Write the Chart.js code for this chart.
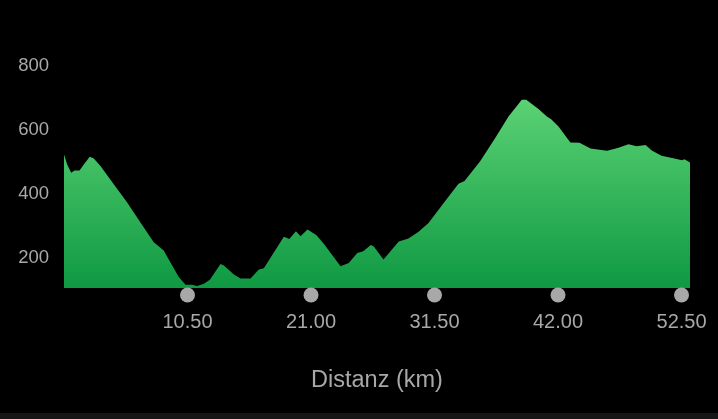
<!DOCTYPE html>
<html>
<head>
<meta charset="utf-8">
<script src="https://cdn.jsdelivr.net/npm/chart.js@4"></script>
<style>
  html, body { margin: 0; padding: 0; background: #161616; }
  #wrap { position: relative; width: 718px; height: 413px; background: #000; }
  canvas { display: block; }
</style>
</head>
<body>
<div id="wrap"><canvas id="c" width="718" height="413"></canvas></div>
<script>
// Distance along the route (km)
const distanceKm = [
  0, 0.27, 0.61, 0.89, 1.32, 1.68, 2.19, 2.53, 3.10, 4.23, 5.37, 6.50, 7.63, 8.48,
  9.05, 9.76, 10.33, 10.90, 11.32, 11.89, 12.40, 13.31, 13.59, 14.44, 15.01, 15.86,
  16.56, 16.99, 18.69, 19.15, 19.72, 20.11, 20.70, 21.47, 22.15, 23.51, 24.21, 24.93,
  25.44, 26.08, 26.34, 27.16, 28.46, 29.29, 30.14, 30.99, 32.41, 33.54, 34.05, 35.38,
  36.66, 37.79, 38.92, 39.30, 40.34, 41.05, 41.42, 42.04, 43.05, 43.83, 44.76, 46.17,
  47.14, 47.99, 48.67, 49.44, 49.97, 50.80, 51.99, 52.54, 52.75, 53.22
];
// Elevation (m)
const elevationM = [
  517, 486, 460, 467, 467, 486, 510, 505, 481, 424, 367, 305, 243, 217,
  180, 134, 110, 110, 106, 113, 126, 175, 170, 142, 130, 130,
  158, 162, 260, 253, 277, 262, 283, 265, 235, 168, 178, 209,
  215, 234, 230, 189, 245, 255, 276, 303, 372, 426, 434, 496,
  569, 636, 688, 688, 659, 636, 627, 605, 555, 554, 536, 529,
  538, 549, 543, 547, 530, 513, 504, 499, 502, 492
];
const xTicks = [10.5, 21, 31.5, 42, 52.5];
const yTicks = [200, 400, 600, 800];
const xTitle = 'Distanz (km)';

const textColor = '#a8a8a8';
const fontFamily = '"Liberation Sans", Arial, Helvetica, sans-serif';

const tickDots = {
  id: 'tickDots',
  afterDraw(chart) {
    const xs = chart.scales.x;
    const c = chart.ctx;
    c.save();
    c.fillStyle = '#a8a8a8';
    xs.ticks.forEach(t => {
      const px = xs.getPixelForValue(t.value);
      c.beginPath();
      c.arc(px, chart.chartArea.bottom + 7, 7.5, 0, Math.PI * 2);
      c.fill();
    });
    c.restore();
  }
};

new Chart(document.getElementById('c'), {
  type: 'line',
  data: {
    datasets: [{
      data: distanceKm.map((d, i) => ({ x: d, y: elevationM[i] })),
      fill: 'start',
      borderWidth: 0,
      pointRadius: 0,
      tension: 0,
      backgroundColor(ctx) {
        const chart = ctx.chart;
        const area = chart.chartArea;
        if (!area) return '#2fb055';
        const g = chart.ctx.createLinearGradient(0, area.top, 0, area.bottom);
        g.addColorStop(0, '#76e685');
        g.addColorStop(1, '#0f9943');
        return g;
      }
    }]
  },
  options: {
    responsive: false,
    animation: false,
    layout: { padding: { top: 32, right: 28, left: 0, bottom: 0 } },
    plugins: { legend: { display: false }, tooltip: { enabled: false } },
    scales: {
      x: {
        type: 'linear',
        min: 0,
        max: distanceKm[distanceKm.length - 1],
        grid: { display: false, drawTicks: false },
        border: { display: false },
        afterBuildTicks(scale) { scale.ticks = xTicks.map(v => ({ value: v })); },
        afterFit(scale) { scale.height = 125; scale.paddingRight = 0; scale.paddingLeft = 0; },
        ticks: {
          color: textColor,
          font: { family: fontFamily, size: 20 },
          padding: 22,
          maxRotation: 0,
          autoSkip: false,
          callback: v => Number(v).toFixed(2)
        },
        title: {
          display: true,
          text: xTitle,
          color: textColor,
          font: { family: fontFamily, size: 23.5 },
          padding: { top: 0, bottom: 18 }
        }
      },
      y: {
        min: 100,
        max: 900,
        grid: { display: false, drawTicks: false },
        border: { display: false },
        afterBuildTicks(scale) { scale.ticks = yTicks.map(v => ({ value: v })); },
        afterFit(scale) { scale.width = 64; },
        ticks: {
          color: textColor,
          font: { family: fontFamily, size: 18.5, lineHeight: '4px' },
          padding: 15,
          callback: v => ['', String(v)]
        }
      }
    }
  },
  plugins: [tickDots]
});
</script>
</body>
</html>
